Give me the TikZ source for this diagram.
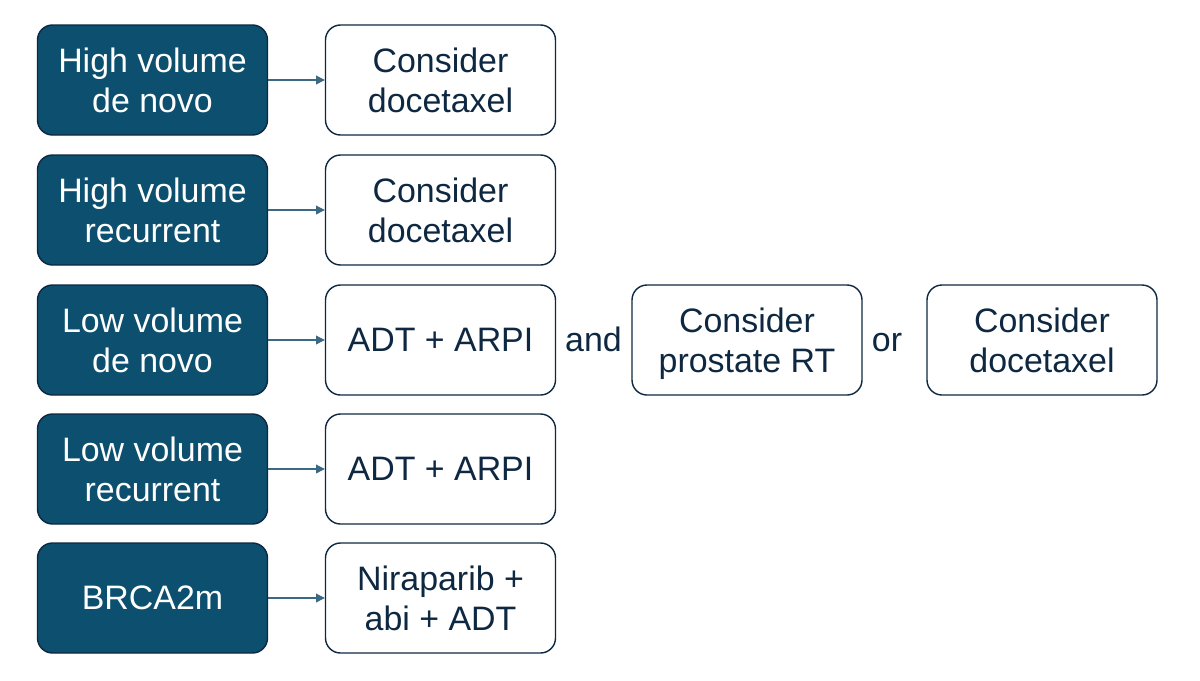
\documentclass[tikz,border=0pt]{standalone}
\usepackage{fontspec}
\setmainfont{Liberation Sans}
\usetikzlibrary{arrows.meta}
\definecolor{navy}{HTML}{0E2841}
\definecolor{teal}{HTML}{0C4F6E}
\definecolor{arr}{HTML}{3B6883}
\begin{document}
\begin{tikzpicture}[x=0.02cm,y=-0.02cm,
  base/.style={rounded corners=15*0.02cm, minimum width=230*0.02cm, minimum height=110*0.02cm,
    align=center, font=\fontsize{19.3}{22.7}\selectfont, inner sep=0pt, text depth=0pt},
  dark/.style={base, fill=teal, draw=navy, line width=0.8pt, text=white},
  light/.style={base, fill=white, draw=navy, line width=0.8pt, text=navy},
  lbl/.style={font=\fontsize{19.3}{22.7}\selectfont, text=navy, anchor=base, inner sep=0pt},
  conn/.style={draw=arr, line width=0.6pt, -{Triangle[length=5pt,width=5pt]}}]
\useasboundingbox[fill=white] (0,0) rectangle (1200,680);
\node[dark] (a1) at (152.5,80) {High volume\\de novo};
\node[dark] (a2) at (152.5,210) {High volume\\recurrent};
\node[dark] (a3) at (152.5,340) {Low volume\\de novo};
\node[dark] (a4) at (152.5,469) {Low volume\\recurrent};
\node[dark] (a5) at (152.5,598) {BRCA2m};
\node[light] (b1) at (440.5,80) {Consider\\docetaxel};
\node[light] (b2) at (440.5,210) {Consider\\docetaxel};
\node[light] (b3) at (440.5,340) {ADT + ARPI};
\node[light] (b4) at (440.5,469) {ADT + ARPI};
\node[light] (b5) at (440.5,598) {Niraparib +\\abi + ADT};
\node[light] (c3) at (747,340) {Consider\\prostate RT};
\node[light] (d3) at (1042,340) {Consider\\docetaxel};
\node[lbl] (and) at (593.5,351) {and};
\node[lbl] (or) at (887,351) {or};
\foreach \i in {1,...,5} {\draw[conn] (a\i) -- (b\i);}
\end{tikzpicture}
\end{document}
